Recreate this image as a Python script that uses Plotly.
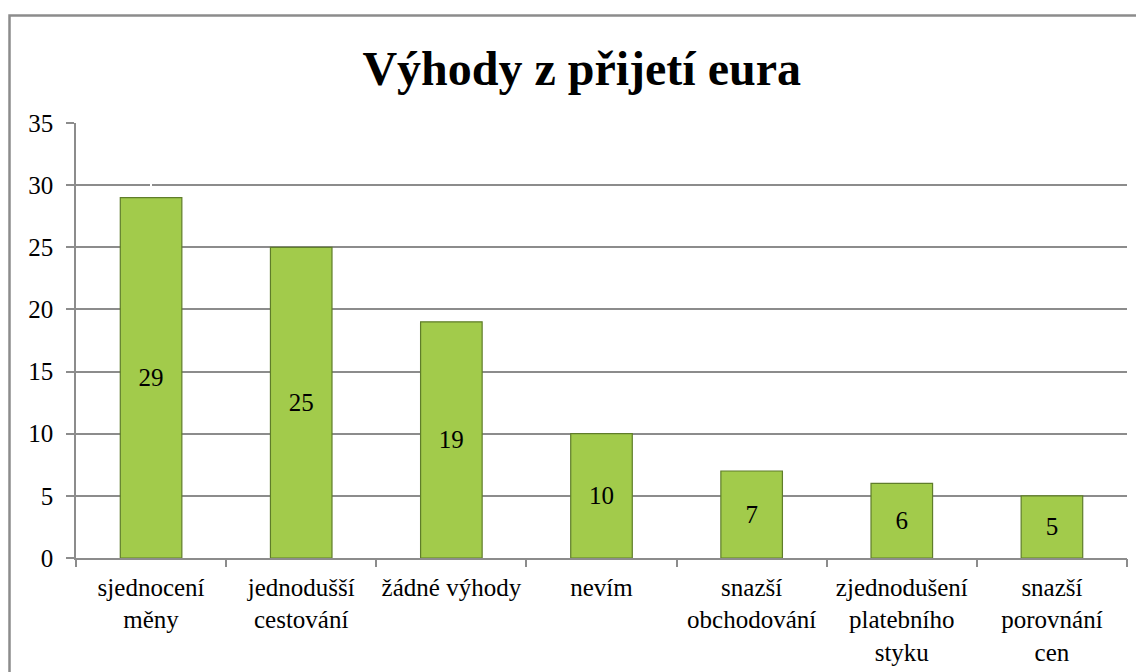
import plotly.graph_objects as go

categories = ["sjednocení<br>měny", "jednodušší<br>cestování", "žádné výhody", "nevím",
              "snazší<br>obchodování", "zjednodušení<br>platebního<br>styku", "snazší<br>porovnání<br>cen"]
values = [29, 25, 19, 10, 7, 6, 5]
y_ticks = [0, 5, 10, 15, 20, 25, 30, 35]

# page body has an 8px margin; figure is sized/offset to compensate
W, H = 1136, 664
L, R, T, B = 68, 17, 115, 114
SERIF = "Liberation Serif, Times New Roman, serif"

fig = go.Figure()
fig.add_trace(go.Bar(
    x=list(range(len(categories))), y=values,
    text=[str(v) for v in values], textposition="inside", insidetextanchor="middle",
    textfont=dict(family=SERIF, size=25, color="black"),
    marker=dict(color="#a2cb4b", line=dict(color="#5f7d2a", width=1.2)),
    width=0.41, showlegend=False, hoverinfo="skip",
))

fig.update_layout(
    width=W, height=H,
    margin=dict(l=L, r=R, t=T, b=B, autoexpand=False),
    paper_bgcolor="white", plot_bgcolor="white",
    title=dict(text="<b>Výhody z přijetí eura</b>", x=0.505, xanchor="center",
               y=1 - 60 / H, yanchor="middle",
               font=dict(family=SERIF, size=48, color="black")),
    font=dict(family=SERIF, size=26, color="black"),
    xaxis=dict(
        tickmode="array", tickvals=list(range(len(categories))), ticktext=categories,
        range=[-0.5, len(categories) - 0.5], automargin=False,
        showgrid=False, showline=True, linecolor="#8c8c8c", linewidth=1.5,
        ticks="", tickfont=dict(family=SERIF, size=25, color="black"),
        zeroline=False, ticklabelstandoff=6,
    ),
    xaxis2=dict(
        overlaying="x", matches="x", range=[-0.5, len(categories) - 0.5], automargin=False,
        tickmode="array", tickvals=[i - 0.5 for i in range(len(categories) + 1)],
        ticks="outside", ticklen=8, tickcolor="#8c8c8c", tickwidth=1.5,
        showticklabels=False, showgrid=False, side="bottom", anchor="y",
    ),
    yaxis=dict(
        range=[0, 35], tickmode="array", tickvals=y_ticks, automargin=False,
        showgrid=True, gridcolor="#8c8c8c", gridwidth=1.5,
        showline=True, linecolor="#8c8c8c", linewidth=1.5,
        ticks="outside", ticklen=8, tickcolor="#8c8c8c", tickwidth=1.5,
        tickfont=dict(family=SERIF, size=25, color="black"),
        zeroline=False, ticklabelstandoff=8,
    ),
)

# dummy invisible trace to activate xaxis2 for boundary ticks
fig.add_trace(go.Scatter(x=[0], y=[0], xaxis="x2", mode="markers",
                         marker=dict(opacity=0), showlegend=False, hoverinfo="skip"))

# outer chart border (decoration)
pw = W - L - R
ph = H - T - B
fig.add_shape(type="rect", xref="paper", yref="paper",
              x0=(1.5 - L) / pw, x1=(W + 10 - L) / pw,
              y0=-(H + 10 - T - ph) / ph, y1=1 + (T - 7.5) / ph,
              line=dict(color="#8c8c8c", width=2.5), fillcolor="rgba(0,0,0,0)", layer="below")

fig.write_html("out.html")
